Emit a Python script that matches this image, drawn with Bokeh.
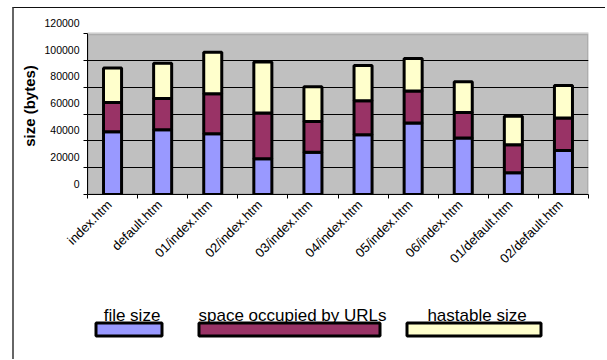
import numpy as np
from bokeh.plotting import figure
from bokeh.models import (ColumnDataSource, Range1d, FixedTicker, LinearAxis,
                          BoxAnnotation, BasicTickFormatter)
from bokeh.embed import file_html
from bokeh.resources import INLINE
from bokeh.core.properties import value

# --- data -------------------------------------------------------------
pages = ["index.htm", "default.htm", "01/index.htm", "02/index.htm", "03/index.htm",
         "04/index.htm", "05/index.htm", "06/index.htm", "01/default.htm", "02/default.htm"]
file_size = [46800, 48300, 45300, 26700, 31600, 44600, 53300, 42100, 16200, 32900]
url_space = [21900, 23400, 29900, 34100, 22900, 25400, 23900, 19200, 20900, 24200]
hashtable_size = [25700, 26400, 31100, 38100, 25900, 26400, 24400, 22900, 21400, 24200]
series_names = ["file size", "space occupied by URLs", "hastable size"]
series_colors = ["#9999FF", "#993366", "#FFFFCC"]
y_ticks = [0, 20000, 40000, 60000, 80000, 100000, 120000]

# --- styling constants ---------------------------------------------------
FONT = "Liberation Sans"
Y_MAX = y_ticks[-1]
Y_END = 132170          # head-room above the gray plot area for the top tick label
LABEL_SHIFT = 8200      # tick numbers sit slightly above their gridlines
X_SHIFT = -0.06         # nudge of the rotated page names, in category units
N = len(pages)

x = np.arange(N) + 0.5
source = ColumnDataSource(dict(x=x, file=file_size, urls=url_space, hash=hashtable_size))

p = figure(width=593, height=292,
           x_range=Range1d(0, N), y_range=Range1d(0, Y_END),
           x_axis_location=None,
           output_backend="svg", toolbar_location=None,
           min_border_left=73, min_border_right=19, min_border_top=9, min_border_bottom=106,
           background_fill_color=None, border_fill_color="white", outline_line_color=None)
p.styles = {"margin-left": "12px", "margin-top": "7px",
            "border-top": "1px solid #111", "border-left": "2px solid #666"}

# gray plotting area with its border
p.add_layout(BoxAnnotation(left=0, right=N, bottom=0, top=Y_MAX,
                           fill_color="#C0C0C0", fill_alpha=1,
                           line_color="#808080", line_width=3, level="image"))

p.xgrid.visible = False
p.ygrid.ticker = FixedTicker(ticks=y_ticks[1:-1])
p.ygrid.grid_line_color = "black"
p.ygrid.grid_line_alpha = 1
p.ygrid.grid_line_width = 1

p.vbar_stack(["file", "urls", "hash"], x="x", width=0.36, source=source,
             fill_color=series_colors, line_color="black", line_width=3)

# left axis: line and tick marks
yax = p.yaxis[0]
yax.ticker = FixedTicker(ticks=y_ticks)
yax.bounds = (0, Y_MAX)
yax.axis_line_color = "black"
yax.major_tick_line_color = "black"
yax.major_tick_out = 4
yax.major_tick_in = 0
yax.minor_tick_line_color = None
yax.major_label_text_color = None
yax.major_label_text_font_size = "0px"
yax.major_label_standoff = 0

# left axis: the numbers and the title
p.extra_y_ranges = {"ylabels": Range1d(-LABEL_SHIFT, Y_END - LABEL_SHIFT)}
lab = LinearAxis(y_range_name="ylabels", ticker=FixedTicker(ticks=y_ticks),
                 bounds=(0, Y_MAX),
                 formatter=BasicTickFormatter(use_scientific=False),
                 axis_line_color=None, major_tick_line_color=None, minor_tick_line_color=None,
                 major_tick_out=0, major_tick_in=0, major_label_standoff=4,
                 major_label_text_font=FONT, major_label_text_font_size="10.5px",
                 major_label_text_color="black",
                 axis_label="size (bytes)", axis_label_text_font=FONT,
                 axis_label_text_font_style="bold", axis_label_text_font_size="15px",
                 axis_label_text_color="black", axis_label_standoff=3)
p.add_layout(lab, "left")

# bottom axis: tick marks between pages, rotated names under each bar
p.extra_x_ranges = {"xlabels": Range1d(-X_SHIFT, N - X_SHIFT)}
xax = LinearAxis(x_range_name="xlabels",
                 ticker=FixedTicker(ticks=list(x),
                                    minor_ticks=[b - X_SHIFT for b in range(N + 1)]),
                 major_label_overrides={float(c): name for c, name in zip(x, pages)},
                 axis_line_color="black",
                 major_tick_line_color=None, major_tick_out=0, major_tick_in=0,
                 minor_tick_line_color="black", minor_tick_out=4, minor_tick_in=0,
                 major_label_orientation=np.deg2rad(45),
                 major_label_text_font=FONT, major_label_text_font_size="13px",
                 major_label_text_color="black", major_label_standoff=4)
p.add_layout(xax, "below")

# --- legend strip: each name above a wide swatch (page pixel coordinates,
#     measured upwards from the bottom edge of the page) ----------------------
legend_left = [95.5, 198.5, 406.5]
legend_right = [161.5, 379.5, 540.5]
leg = figure(width=593, height=60, x_range=Range1d(14, 607), y_range=Range1d(0, 60),
             x_axis_location=None, y_axis_location=None,
             output_backend="svg", toolbar_location=None, min_border=0,
             outline_line_color=None, background_fill_color="white")
leg.styles = {"margin-left": "12px", "border-left": "2px solid #666"}
leg.grid.visible = False
leg.quad(left=legend_left, right=legend_right, top=36.5, bottom=23.5,
         fill_color=series_colors, line_color="black", line_width=3)
leg.text(x=[(a + b) / 2 + 3 for a, b in zip(legend_left, legend_right)], y=44.5,
         text=series_names, text_align="center", text_baseline="alphabetic",
         text_font=value(FONT), text_font_size="17px", text_color="black")

open("out.html", "w").write(file_html([p, leg], INLINE))
